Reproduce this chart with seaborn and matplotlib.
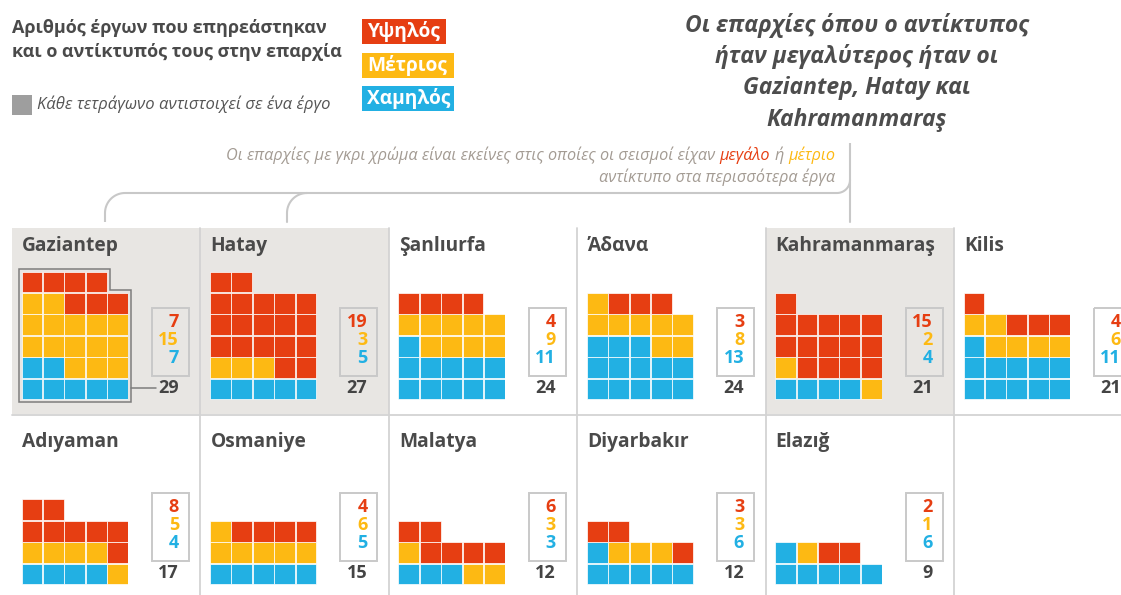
import numpy as np
import pandas as pd
import matplotlib
matplotlib.use("Agg")
import matplotlib.pyplot as plt
from matplotlib.patches import Rectangle, Polygon
import seaborn as sns

# ---------------- data ----------------
provinces = ["Gaziantep", "Hatay", "Şanlıurfa", "Άδανα", "Kahramanmaraş", "Kilis",
             "Adıyaman", "Osmaniye", "Malatya", "Diyarbakır", "Elazığ"]
high = [7, 19, 4, 3, 15, 4, 8, 4, 6, 3, 2]
medium = [15, 3, 9, 8, 2, 6, 5, 6, 3, 3, 1]
low = [7, 5, 11, 13, 4, 11, 4, 5, 3, 6, 6]
highlighted = ["Gaziantep", "Hatay", "Kahramanmaraş"]
level_labels = ["Υψηλός", "Μέτριος", "Χαμηλός"]

RED, YEL, BLUE = "#e63e12", "#fdb913", "#22b0e3"
GRAYBG = "#e8e6e3"
DARK = "#4a4a4a"
palette = {"high": RED, "medium": YEL, "low": BLUE}

# ---------------- layout ----------------
W, H = 1121, 595
DPI = 100
fig = plt.figure(figsize=(W / DPI, H / DPI), dpi=DPI)
sns.set_theme(style="white")
plt.rcParams["font.family"] = ["Open Sans", "DejaVu Sans"]

bg = fig.add_axes([0, 0, 1, 1])
bg.set_xlim(0, W)
bg.set_ylim(H, 0)
bg.axis("off")

P = 21.4          # cell pitch (px)
NCOL = 5
col_x = [12 + i * 188.4 for i in range(7)]
row_top = [228, 415]
row_bot = [414, 595]
sq_bottom = [399, 584]
title_y = [246, 442]

# panel backgrounds and separators
for i, name in enumerate(provinces):
    r, c = divmod(i, 6)
    if name in highlighted:
        bg.add_patch(Rectangle((col_x[c], row_top[r]), 188.4, row_bot[r] - row_top[r],
                               facecolor=GRAYBG, edgecolor="none", zorder=0))
sep = "#d3d3d3"
for r in range(2):
    for c in range(1, 6):
        bg.plot([col_x[c], col_x[c]], [row_top[r], row_bot[r]], color=sep, lw=1.3, zorder=1)
bg.plot([12, W], [414.5, 414.5], color=sep, lw=1.3, zorder=1)

for i, name in enumerate(provinces):
    r, c = divmod(i, 6)
    cx = col_x[c]
    sb = sq_bottom[r]
    bg.text(cx + 10, title_y[r], name, fontsize=13.8, fontweight="bold", color=DARK,
            ha="left", va="center")
    # waffle axes
    left_px = cx + 9.3
    bottom_px = sb + 0.7
    ax = fig.add_axes([left_px / W, 1 - bottom_px / H, NCOL * P / W, 6 * P / H])
    cells = ["low"] * low[i] + ["medium"] * medium[i] + ["high"] * high[i]
    idx = np.arange(len(cells))
    df = pd.DataFrame({"col": idx % NCOL, "row": idx // NCOL, "level": cells})
    side_pt = 20.7 * 72 / DPI
    sns.scatterplot(data=df, x="col", y="row", hue="level", palette=palette,
                    marker="s", s=side_pt ** 2, edgecolor="white",
                    linewidth=0.7 * 72 / DPI, legend=False, ax=ax, zorder=3)
    ax.set_xlim(-0.5, NCOL - 0.5)
    ax.set_ylim(-0.5, 5.5)
    ax.axis("off")
    ax.patch.set_alpha(0)

    # count box
    bg.add_patch(Rectangle((cx + 140, sb - 91), 37, 68, facecolor="none",
                           edgecolor="#c9c9c9", lw=1.4, zorder=2))
    nx = cx + 167
    for val, yy, colr in [(high[i], sb - 77, RED), (medium[i], sb - 59, YEL), (low[i], sb - 41, BLUE)]:
        bg.text(nx, yy, str(val), color=colr, fontsize=13, fontweight="bold",
                ha="right", va="center")
    total = high[i] + medium[i] + low[i]
    bg.text(nx, sb - 11, str(total), color="#444444", fontsize=13, fontweight="bold",
            ha="right", va="center")

    if i == 0:
        # outline around the waffle of the first province
        n = total
        full = n // NCOL
        rem = n % NCOL
        e = 0.63
        pts = [(-e, -e), (NCOL - 1 + e, -e), (NCOL - 1 + e, full - 1 + e),
               (rem - 1 + e, full - 1 + e), (rem - 1 + e, full + e), (-e, full + e)]
        ax.add_patch(Polygon(pts, closed=True, fill=False, edgecolor="#7d7d7d",
                             lw=1.1, clip_on=False, zorder=4))
        ty = (bottom_px - (sb - 11)) / P - 0.5
        tx = (cx + 144 - left_px) / P - 0.5
        ax.plot([NCOL - 1 + e, tx], [ty, ty], color="#7d7d7d", lw=1.1, clip_on=False)

# ---------------- header ----------------
bg.text(12, 28, "Αριθμός έργων που επηρεάστηκαν", fontsize=13, fontweight="bold",
        color=DARK, ha="left", va="center")
bg.text(12, 52, "και ο αντίκτυπός τους στην επαρχία", fontsize=13, fontweight="bold",
        color=DARK, ha="left", va="center")
bg.add_patch(Rectangle((12, 95), 20, 20, facecolor="#9e9e9e", edgecolor="none"))
bg.text(37, 104, "Κάθε τετράγωνο αντιστοιχεί σε ένα έργο", fontsize=12, style="italic",
        color="#555555", ha="left", va="center")

for lab, colr, y0, w in zip(level_labels, [RED, YEL, BLUE], [19, 53, 86], [84, 92, 92]):
    bg.add_patch(Rectangle((362, y0), w, 25, facecolor=colr, edgecolor="none"))
    bg.text(367, y0 + 12.5, lab, color="white", fontsize=13.8, fontweight="bold",
            ha="left", va="center")

title_lines = ["Οι επαρχίες όπου ο αντίκτυπος", "ήταν μεγαλύτερος ήταν οι",
               "Gaziantep, Hatay και", "Kahramanmaraş"]
for k, line in enumerate(title_lines):
    bg.text(857, 25 + k * 31.5, line, fontsize=16.5, fontweight="bold", style="italic",
            color="#4d4d4d", ha="center", va="center")

# subtitle with coloured words (chained from the right)
SUB = "#a39b93"
fs = 11.7
sp = 0.27 * fs
t4 = bg.text(835, 155, "μέτριο", fontsize=fs, style="italic", color=YEL, ha="right", va="center")
t3 = bg.annotate("ή", xy=(0, 0), xycoords=t4, xytext=(-sp, 0), textcoords="offset points",
                 fontsize=fs, style="italic", color=SUB, ha="right", va="bottom")
t2 = bg.annotate("μεγάλο", xy=(0, 0), xycoords=t3, xytext=(-sp, 0), textcoords="offset points",
                 fontsize=fs, style="italic", color=RED, ha="right", va="bottom")
t1 = bg.annotate("Οι επαρχίες με γκρι χρώμα είναι εκείνες στις οποίες οι σεισμοί είχαν",
                 xy=(0, 0), xycoords=t2, xytext=(-sp, 0), textcoords="offset points",
                 fontsize=fs, style="italic", color=SUB, ha="right", va="bottom")
bg.text(835, 177, "αντίκτυπο στα περισσότερα έργα", fontsize=fs, style="italic", color=SUB,
        ha="right", va="center")

# connector lines
LC = "#c8c8c8"
LW = 1.5


def arc(cx0, cy0, rad, a0, a1, n=20):
    t = np.linspace(np.radians(a0), np.radians(a1), n)
    return cx0 + rad * np.cos(t), cy0 + rad * np.sin(t)


hy = 193
r1 = 20
xs = [105]
ys = [222]
ax_, ay_ = arc(105 + r1, hy + r1, r1, 180, 270)
xs += list(ax_); ys += list(ay_)
r2 = 13
bx_, by_ = arc(850 - r2, hy - r2, r2, 90, 0)
xs += list(bx_); ys += list(by_)
xs += [850]; ys += [143]
bg.plot(xs, ys, color=LC, lw=LW, solid_capstyle="butt")
bg.plot([850, 850], [hy - r2, 222], color=LC, lw=LW)
cx_, cy_ = arc(287 + r1, hy + r1, r1, 180, 270)
bg.plot([287] + list(cx_), [222] + list(cy_), color=LC, lw=LW)

fig.savefig("out.png", dpi=DPI)
